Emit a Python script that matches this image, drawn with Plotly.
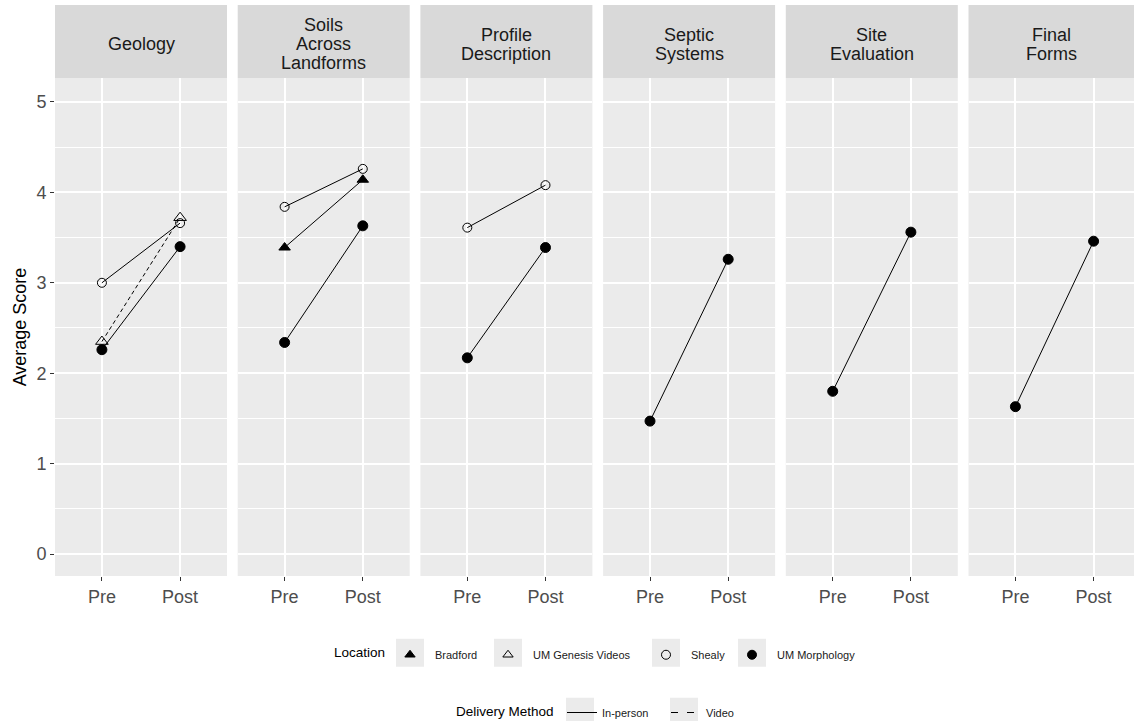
import plotly.graph_objects as go

# ---------------- data ----------------
panels = ["Geology", "Soils Across Landforms", "Profile Description",
          "Septic Systems", "Site Evaluation", "Final Forms"]
panel_lines = [["Geology"], ["Soils", "Across", "Landforms"], ["Profile", "Description"],
               ["Septic", "Systems"], ["Site", "Evaluation"], ["Final", "Forms"]]
phases = ["Pre", "Post"]
locations = ["Bradford", "UM Genesis Videos", "Shealy", "UM Morphology"]
delivery = {"Bradford": "In-person", "UM Genesis Videos": "Video",
            "Shealy": "In-person", "UM Morphology": "In-person"}
methods = ["In-person", "Video"]

# scores[panel][location] = [Pre, Post]
scores = {
    "Geology": {"Shealy": [3.00, 3.66], "UM Genesis Videos": [2.35, 3.72],
                "UM Morphology": [2.26, 3.40]},
    "Soils Across Landforms": {"Shealy": [3.84, 4.26], "Bradford": [3.39, 4.14],
                               "UM Morphology": [2.34, 3.63]},
    "Profile Description": {"Shealy": [3.61, 4.08], "UM Morphology": [2.17, 3.39]},
    "Septic Systems": {"UM Morphology": [1.47, 3.26]},
    "Site Evaluation": {"UM Morphology": [1.80, 3.56]},
    "Final Forms": {"UM Morphology": [1.63, 3.46]},
}
y_ticks = [0, 1, 2, 3, 4, 5]

# ---------------- styling ----------------
symbols = {"Bradford": "triangle-up", "UM Genesis Videos": "triangle-up-open",
           "Shealy": "circle-open", "UM Morphology": "circle"}
msize = {"Bradford": 10, "UM Genesis Videos": 11, "Shealy": 9, "UM Morphology": 10}
dashes = {"In-person": "solid", "Video": "4px,3px"}
key_dashes = {"In-person": "solid", "Video": "7px,9px"}

SY = 727 / 721               # vertical compensation for the capture
W, H = 1134, 727
ML, MR = 55, 0
MT = round(5 * SY)
MB = H - round(576 * SY)
PW = W - ML - MR
PH = H - MT - MB
panel_top_px = 78 * SY
y_dom_top = (H - MB - panel_top_px) / PH
pitch = 182.7
pwidth = 172.0
y_range = [-0.243, 5.265]
FONT = "Liberation Sans, Arial, sans-serif"


def px_x(sx):  # target x (px) -> paper x
    return (sx - ML) / PW


def px_y(sy):  # target y (px) -> paper y
    return (H - MB - sy * SY) / PH


fig = go.Figure()
layout = {}
for i, p in enumerate(panels):
    ax = "" if i == 0 else str(i + 1)
    left = i * pitch
    right = min(left + pwidth, PW)
    d0, d1 = left / PW, right / PW
    xr = [-0.6, -0.6 + (right - left) / (pwidth / 2.2)]
    layout["xaxis" + ax] = dict(
        domain=[d0, d1], type="category", categoryorder="array", categoryarray=phases,
        range=xr, showgrid=True, gridcolor="white", gridwidth=1.6, zeroline=False,
        showline=False, ticks="outside", ticklen=4, tickcolor="#333333",
        tickfont=dict(family=FONT, size=18, color="#4D4D4D"), fixedrange=True,
        anchor="y" + ax)
    layout["yaxis" + ax] = dict(
        domain=[0, y_dom_top], range=y_range, tickvals=y_ticks,
        showgrid=True, gridcolor="white", gridwidth=1.6, zeroline=False,
        showline=False, showticklabels=(i == 0), ticks="outside" if i == 0 else "",
        ticklen=4, tickcolor="#333333",
        tickfont=dict(family=FONT, size=18, color="#4D4D4D"),
        minor=dict(tickvals=[0.5, 1.5, 2.5, 3.5, 4.5], showgrid=True,
                   gridcolor="white", gridwidth=0.8, ticks=""),
        anchor="x" + ax, fixedrange=True)
    if i == 0:
        layout["yaxis"]["title"] = dict(text="Average Score",
                                        font=dict(family=FONT, size=18, color="black"),
                                        standoff=5)
    # panel background
    fig.add_shape(type="rect", xref="x" + ax + " domain", yref="y" + ax + " domain",
                  x0=0, x1=1, y0=0, y1=1, fillcolor="#EBEBEB", line_width=0,
                  layer="below")
    # strip
    fig.add_shape(type="rect", xref="x" + ax + " domain", yref="paper",
                  x0=0, x1=1, y0=y_dom_top, y1=1.0, fillcolor="#D9D9D9",
                  line_width=0, layer="below")
    lines = panel_lines[i]
    n = len(lines)
    for k, t in enumerate(lines):
        sy = 44 + (k - (n - 1) / 2) * 19
        fig.add_annotation(text=t, xref="x" + ax + " domain", yref="paper",
                           x=0.5, y=px_y(sy), showarrow=False,
                           xanchor="center", yanchor="middle",
                           font=dict(family=FONT, size=18, color="#1A1A1A"))
    for loc in locations:
        if loc not in scores[p]:
            continue
        fig.add_trace(go.Scatter(
            x=phases, y=scores[p][loc], xaxis="x" + ax, yaxis="y" + ax,
            mode="lines+markers", showlegend=False,
            line=dict(color="black", width=1, dash=dashes[delivery[loc]]),
            marker=dict(symbol=symbols[loc], size=msize[loc], color="black",
                        line=dict(color="black", width=1)),
            hovertemplate=loc + " %{x}: %{y:.2f}<extra></extra>"))

# ---------------- legends (one Plotly legend per key, ggplot-like layout) ----------------
key_loc_x = [410, 508, 666, 752]   # key centres (px)
key_met_x = [580, 684]
row_loc, row_met = 653, 712
legends = {}
n_leg = 0
for j, loc in enumerate(locations):
    n_leg += 1
    name = "legend" if n_leg == 1 else "legend%d" % n_leg
    fig.add_trace(go.Scatter(
        x=[None], y=[None], mode="markers", name=loc, legend=name,
        marker=dict(symbol=symbols[loc], size=9, color="black",
                    line=dict(color="black", width=1))))
    legends[name] = dict(orientation="h", x=px_x(key_loc_x[j] - 25), xanchor="left",
                         y=px_y(row_loc + 2), yanchor="middle", itemwidth=40,
                         font=dict(family=FONT, size=11, color="#1A1A1A"),
                         bgcolor="rgba(0,0,0,0)")
    fig.add_shape(type="rect", xref="paper", yref="paper",
                  x0=px_x(key_loc_x[j] - 14), x1=px_x(key_loc_x[j] + 14),
                  y0=px_y(row_loc + 14), y1=px_y(row_loc - 14),
                  fillcolor="#EBEBEB", line_width=0, layer="below")
for j, m in enumerate(methods):
    n_leg += 1
    name = "legend%d" % n_leg
    fig.add_trace(go.Scatter(
        x=[None], y=[None], mode="lines", name=m, legend=name,
        line=dict(color="black", width=1, dash=key_dashes[m])))
    legends[name] = dict(orientation="h", x=px_x(key_met_x[j] - 18), xanchor="left",
                         y=px_y(row_met + 1), yanchor="middle", itemwidth=30,
                         font=dict(family=FONT, size=11, color="#1A1A1A"),
                         bgcolor="rgba(0,0,0,0)")
    fig.add_shape(type="rect", xref="paper", yref="paper",
                  x0=px_x(key_met_x[j] - 14), x1=px_x(key_met_x[j] + 14),
                  y0=px_y(row_met + 14), y1=px_y(row_met - 14),
                  fillcolor="#EBEBEB", line_width=0, layer="below")

fig.add_annotation(text="Location", xref="paper", yref="paper", x=px_x(332),
                   y=px_y(row_loc), xanchor="left", yanchor="middle", showarrow=False,
                   font=dict(family=FONT, size=13.5, color="black"))
fig.add_annotation(text="Delivery Method", xref="paper", yref="paper", x=px_x(454),
                   y=px_y(row_met), xanchor="left", yanchor="middle", showarrow=False,
                   font=dict(family=FONT, size=13.5, color="black"))

fig.update_layout(
    width=W, height=H, margin=dict(l=ML, r=MR, t=MT, b=MB),
    paper_bgcolor="white", plot_bgcolor="white",
    font=dict(family=FONT, color="black"),
    **legends, **layout)

fig.write_html(
    "out.html",
    config={"displayModeBar": False},
    post_script=("var s='margin:0;padding:0;overflow:hidden';"
                 "document.documentElement.style.cssText=s;"
                 "document.body.style.cssText=s;"))
